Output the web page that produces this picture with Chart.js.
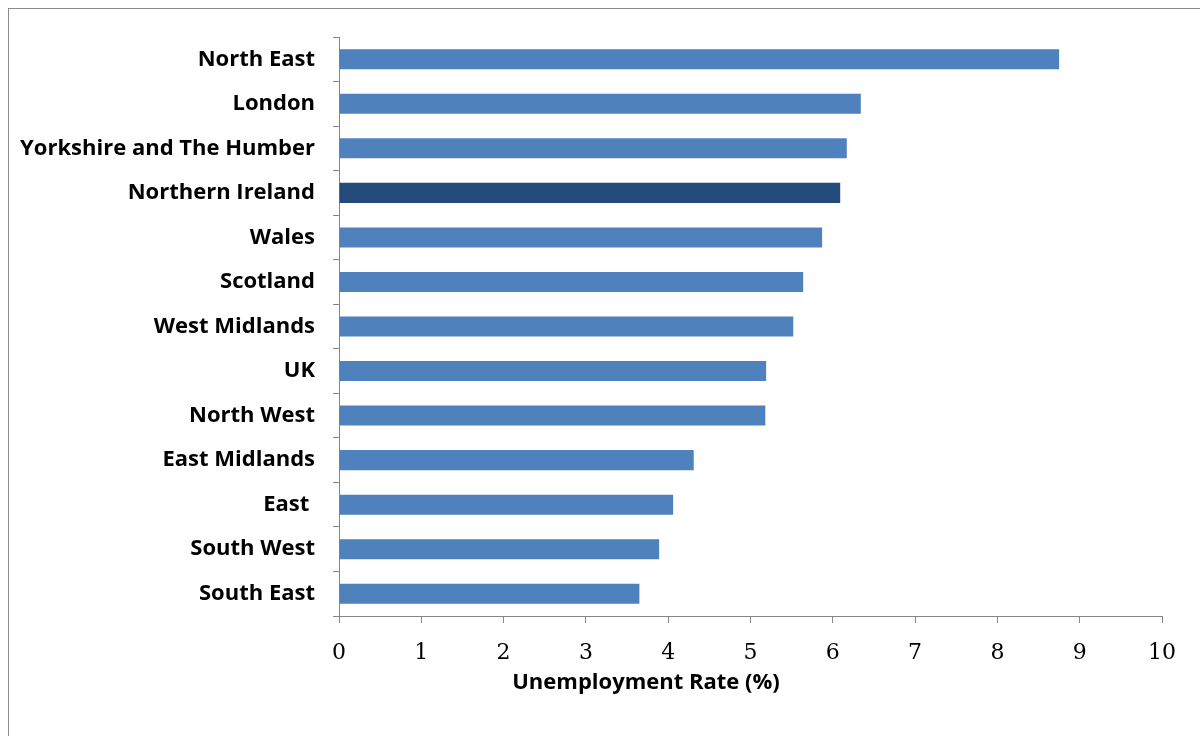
<!DOCTYPE html>
<html>
<head>
<meta charset="utf-8">
<script src="https://cdn.jsdelivr.net/npm/chart.js@4"></script>
<style>
  html, body { margin: 0; padding: 0; background: #fff; }
  #wrap { width: 1200px; height: 736px; position: relative; }
</style>
</head>
<body>
<div id="wrap"><canvas id="rateChart" width="1200" height="736"></canvas></div>
<script>
var regions = ["North East", "London", "Yorkshire and The Humber", "Northern Ireland", "Wales",
               "Scotland", "West Midlands", "UK", "North West", "East Midlands", "East ",
               "South West", "South East"];
var rates = [8.75, 6.34, 6.17, 6.09, 5.87, 5.64, 5.52, 5.19, 5.18, 4.31, 4.06, 3.89, 3.65];
var highlight = "Northern Ireland";
var xTicks = [0, 1, 2, 3, 4, 5, 6, 7, 8, 9, 10];
var axisTitle = "Unemployment Rate (%)";

var barColors = regions.map(function (r) { return r === highlight ? "#234B7C" : "#4F81BD"; });

// frame round the whole chart + the axis title (sits off-centre in the original)
var extras = {
  id: "extras",
  beforeDraw: function (chart) {
    var ctx = chart.ctx;
    ctx.save();
    ctx.strokeStyle = "#8c8c8c";
    ctx.lineWidth = 1;
    ctx.strokeRect(8.5, 8.5, 1200, 740);
    ctx.restore();
  },
  afterDraw: function (chart) {
    var ctx = chart.ctx;
    ctx.save();
    ctx.font = "bold 22px 'Open Sans'";
    ctx.fillStyle = "#000";
    ctx.textAlign = "center";
    ctx.textBaseline = "middle";
    ctx.fillText(axisTitle, 646, 683);
    ctx.restore();
  }
};

new Chart("rateChart", {
  type: "bar",
  data: {
    labels: regions,
    datasets: [{
      data: rates,
      backgroundColor: barColors,
      categoryPercentage: 0.45,
      barPercentage: 1.0
    }]
  },
  options: {
    indexAxis: "y",
    responsive: false,
    animation: false,
    layout: { padding: { top: 37, right: 38, left: 0, bottom: 0 } },
    plugins: {
      legend: { display: false },
      title: { display: false },
      tooltip: { enabled: false }
    },
    scales: {
      x: {
        min: 0,
        max: 10,
        afterBuildTicks: function (scale) {
          scale.ticks = xTicks.map(function (v) { return { value: v }; });
        },
        afterFit: function (scale) { scale.height = 120; },
        grid: { drawOnChartArea: false, tickLength: 7, color: "#868686" },
        border: { color: "#868686" },
        ticks: {
          padding: 17,
          color: "#000",
          font: { family: "DejaVu Serif", size: 22 }
        }
      },
      y: {
        afterFit: function (scale) { scale.width = 339; },
        grid: { drawOnChartArea: false, tickLength: 6, color: "#868686" },
        border: { color: "#868686" },
        ticks: {
          padding: 18,
          color: "#000",
          font: { family: "Open Sans", size: 22, weight: "bold" }
        }
      }
    }
  },
  plugins: [extras]
});
</script>
</body>
</html>
